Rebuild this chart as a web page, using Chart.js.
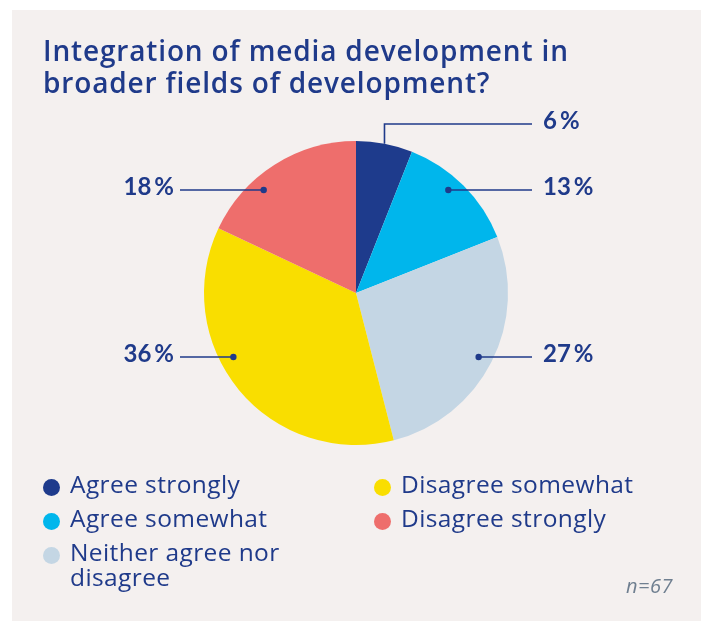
<!DOCTYPE html>
<html>
<head>
<meta charset="utf-8">
<script src="https://cdn.jsdelivr.net/npm/chart.js@4/dist/chart.umd.min.js"></script>
<style>
  html, body { margin: 0; padding: 0; background: #ffffff; }
  body { width: 705px; height: 621px; position: relative; overflow: hidden; font-family: "Open Sans", Lato, sans-serif; }
  #panel { position: absolute; left: 12px; top: 10px; width: 689px; height: 611px; background: #f4f0ef; }
  #title { position: absolute; left: 31px; top: 24px; margin: 0; font-size: 28px; line-height: 32px; font-weight: 600; color: #1f3a8a; letter-spacing: 0.85px; white-space: nowrap; }
  #chartBox { position: absolute; left: 0; top: 0; width: 689px; height: 611px; }
  #legend { position: absolute; left: 31px; top: 461px; width: 650px; display: grid; grid-template-columns: 331px 310px; grid-auto-flow: column; grid-template-rows: repeat(3, auto); row-gap: 9px; }
  .item { display: flex; align-items: flex-start; font-size: 24.5px; line-height: 25px; color: #1f3a8a; letter-spacing: 0.4px; }
  .item .dot { flex: 0 0 auto; width: 17px; height: 17px; border-radius: 50%; margin-top: 7.5px; margin-right: 10px; }
  .item .txt { max-width: 226px; }
  .item.wide .txt { max-width: 300px; white-space: nowrap; }
  #note { position: absolute; left: 614px; top: 562px; font-size: 20px; font-style: italic; color: #6f7f90; letter-spacing: 0.5px; }
</style>
</head>
<body>
<div id="panel">
  <div id="chartBox"><canvas id="pie" width="689" height="611"></canvas></div>
  <h1 id="title">Integration of media development in<br>broader fields of development?</h1>
  <div id="legend"></div>
  <div id="note">n=67</div>
</div>
<script>
// Survey answers, shares in percent
const categories = ['Agree strongly', 'Agree somewhat', 'Neither agree nor disagree', 'Disagree somewhat', 'Disagree strongly'];
const shares = [6, 13, 27, 36, 18];
const valueLabels = ['6\u2009%', '13\u2009%', '27\u2009%', '36\u2009%', '18\u2009%'];
const sliceColors = ['#1e3b8c', '#00b6ec', '#c4d6e4', '#f9de00', '#ee6e6c'];

const ink = '#1f3a8a';

// Where each callout sits: which side, and its row offset from the pie centre (px)
const calloutLayout = [
  { side: 'right', dy: -169, elbow: true },
  { side: 'right', dy: -103 },
  { side: 'right', dy: 64 },
  { side: 'left', dy: 64 },
  { side: 'left', dy: -103 }
];

const calloutPlugin = {
  id: 'callouts',
  afterDatasetsDraw(chart) {
    const ctx = chart.ctx;
    const arcs = chart.getDatasetMeta(0).data;
    ctx.save();
    ctx.strokeStyle = ink;
    ctx.fillStyle = ink;
    ctx.lineWidth = 1.6;
    ctx.font = 'bold 24px Lato, "Open Sans", sans-serif';
    ctx.textBaseline = 'alphabetic';
    arcs.forEach((arc, i) => {
      const { x: cx, y: cy, outerRadius: R, startAngle, endAngle } = arc.getProps(['x', 'y', 'outerRadius', 'startAngle', 'endAngle'], true);
      const lay = calloutLayout[i];
      const rowY = cy + lay.dy;
      const dir = lay.side === 'right' ? 1 : -1;
      const lineOuter = cx + dir * 176;
      const textX = cx + dir * (dir === 1 ? 187 : 182);
      ctx.beginPath();
      if (lay.elbow) {
        const mid = (startAngle + endAngle) / 2;
        const ex = cx + Math.cos(mid) * R;
        const ey = cy + Math.sin(mid) * R;
        ctx.moveTo(ex, ey);
        ctx.lineTo(ex, rowY);
        ctx.lineTo(lineOuter, rowY);
        ctx.stroke();
      } else {
        const r = R * 0.91;
        const dx = Math.sqrt(Math.max(r * r - lay.dy * lay.dy, 0));
        const px = cx + dir * dx;
        ctx.moveTo(px, rowY);
        ctx.lineTo(lineOuter, rowY);
        ctx.stroke();
        ctx.beginPath();
        ctx.arc(px, rowY, 3.2, 0, Math.PI * 2);
        ctx.fill();
      }
      ctx.textAlign = dir === 1 ? 'left' : 'right';
      ctx.fillText(valueLabels[i], textX, rowY + 5);
    });
    ctx.restore();
  }
};

const chart = new Chart(document.getElementById('pie'), {
  type: 'pie',
  data: {
    labels: categories,
    datasets: [{
      data: shares,
      backgroundColor: sliceColors,
      borderWidth: 0,
      hoverOffset: 0
    }]
  },
  options: {
    responsive: false,
    animation: false,
    events: [],
    layout: { padding: { left: 192, right: 193, top: 131, bottom: 176 } },
    plugins: {
      legend: { display: false },
      tooltip: { enabled: false },
      title: { display: false }
    }
  },
  plugins: [calloutPlugin]
});

// Legend built from the chart's own labels and colours
const legendEl = document.getElementById('legend');
chart.data.labels.forEach((label, i) => {
  const item = document.createElement('div');
  item.className = 'item' + (i >= 3 ? ' wide' : '');
  const dot = document.createElement('span');
  dot.className = 'dot';
  dot.style.background = chart.data.datasets[0].backgroundColor[i];
  const txt = document.createElement('span');
  txt.className = 'txt';
  txt.textContent = label;
  item.appendChild(dot);
  item.appendChild(txt);
  legendEl.appendChild(item);
});
</script>
</body>
</html>
